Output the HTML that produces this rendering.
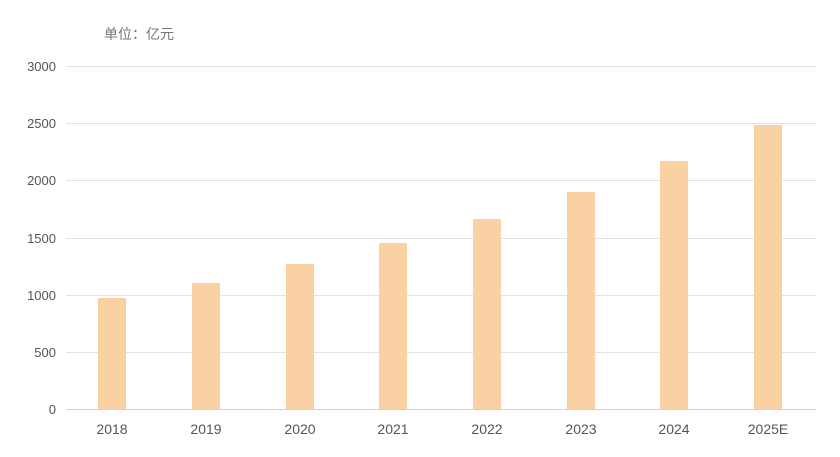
<!DOCTYPE html><html><head><meta charset="utf-8"><style>body{margin:0;background:#fff}</style></head><body>
<svg width="840" height="452" xmlns="http://www.w3.org/2000/svg" font-family="Liberation Sans, Noto Sans CJK SC, sans-serif">
<text x="104" y="39" font-size="14" fill="#757575">单位：亿元</text>
<g stroke="#e3e3e3" stroke-width="1">
<line x1="66" x2="816" y1="66.5" y2="66.5"/><line x1="66" x2="816" y1="123.5" y2="123.5"/><line x1="66" x2="816" y1="180.5" y2="180.5"/><line x1="66" x2="816" y1="238.5" y2="238.5"/><line x1="66" x2="816" y1="295.5" y2="295.5"/><line x1="66" x2="816" y1="352.5" y2="352.5"/></g>
<line x1="66" x2="816" y1="409.5" y2="409.5" stroke="#d0d0d0"/>
<g font-size="13" fill="#555" text-anchor="end">
<text x="56" y="71">3000</text><text x="56" y="128">2500</text><text x="56" y="185">2000</text><text x="56" y="243">1500</text><text x="56" y="300">1000</text><text x="56" y="357">500</text><text x="56" y="414">0</text></g>
<g fill="#f9d1a3">
<rect x="98" y="298" width="28" height="111"/>
<rect x="192" y="283" width="28" height="126"/>
<rect x="286" y="264" width="28" height="145"/>
<rect x="379" y="243" width="28" height="166"/>
<rect x="473" y="219" width="28" height="190"/>
<rect x="567" y="192" width="28" height="217"/>
<rect x="660" y="161" width="28" height="248"/>
<rect x="754" y="125" width="28" height="284"/></g>
<g font-size="14" fill="#555" text-anchor="middle">
<text x="112" y="434">2018</text><text x="206" y="434">2019</text><text x="300" y="434">2020</text><text x="393" y="434">2021</text><text x="487" y="434">2022</text><text x="581" y="434">2023</text><text x="674" y="434">2024</text><text x="768" y="434">2025E</text></g>
</svg></body></html>
